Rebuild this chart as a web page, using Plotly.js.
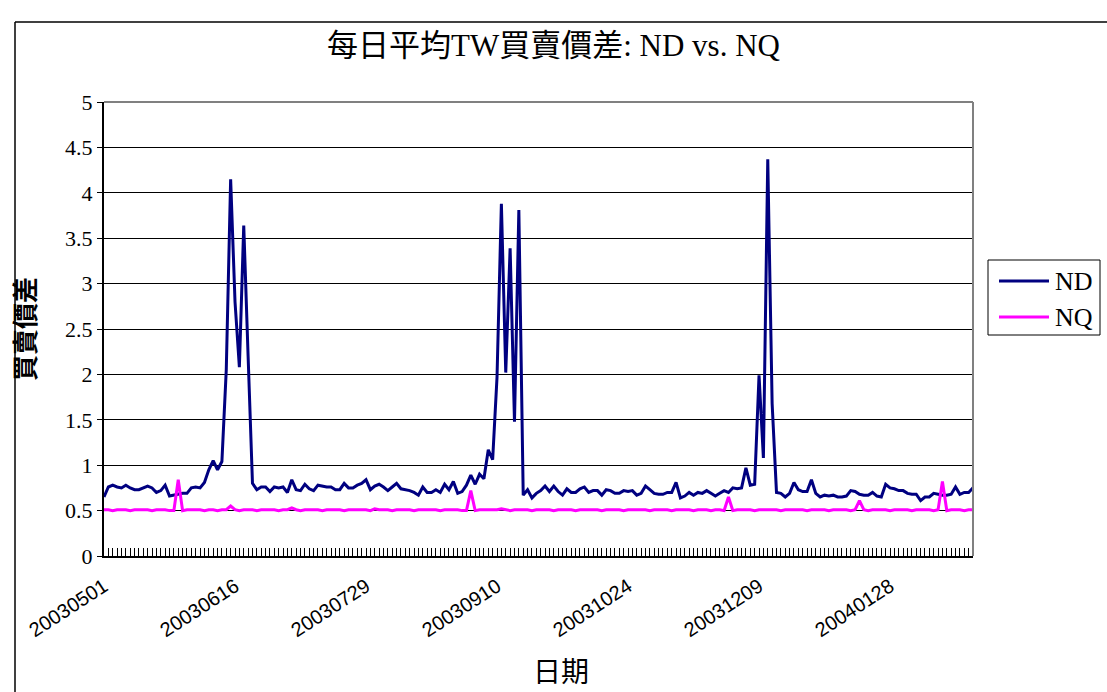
<!DOCTYPE html>
<html>
<head>
<meta charset="utf-8">
<script src="https://cdn.plot.ly/plotly-3.0.1.min.js"></script>
<style>
  html, body { margin: 0; padding: 0; background: #ffffff; }
  #chart { width: 1107px; height: 692px; }
</style>
</head>
<body>
<div id="chart"></div>
<script>
// Daily average TW bid-ask spread, one value per trading day (index 0 = 20030501)
const ndSpread = [
  0.65, 0.76, 0.78, 0.76, 0.75, 0.78, 0.75, 0.73, 0.73, 0.75,
  0.77, 0.75, 0.70, 0.72, 0.78, 0.66, 0.67, 0.68, 0.69, 0.69,
  0.75, 0.76, 0.75, 0.81, 0.95, 1.05, 0.95, 1.04, 2.05, 4.15,
  2.80, 2.08, 3.64, 2.20, 0.80, 0.73, 0.76, 0.76, 0.71, 0.76,
  0.75, 0.76, 0.70, 0.84, 0.73, 0.72, 0.79, 0.74, 0.72, 0.78,
  0.77, 0.76, 0.76, 0.73, 0.73, 0.80, 0.75, 0.75, 0.78, 0.80,
  0.84, 0.73, 0.77, 0.79, 0.76, 0.72, 0.76, 0.80, 0.74, 0.73,
  0.72, 0.70, 0.67, 0.76, 0.70, 0.70, 0.73, 0.70, 0.79, 0.73,
  0.82, 0.69, 0.71, 0.78, 0.89, 0.79, 0.90, 0.85, 1.17, 1.06,
  1.97, 3.88, 2.02, 3.39, 1.48, 3.81, 0.67, 0.73, 0.64, 0.69,
  0.72, 0.77, 0.71, 0.77, 0.71, 0.67, 0.74, 0.70, 0.70, 0.74,
  0.76, 0.70, 0.72, 0.72, 0.67, 0.73, 0.72, 0.69, 0.69, 0.72,
  0.71, 0.72, 0.67, 0.69, 0.77, 0.73, 0.69, 0.68, 0.68, 0.70,
  0.70, 0.81, 0.64, 0.66, 0.70, 0.67, 0.70, 0.69, 0.72, 0.69,
  0.66, 0.69, 0.72, 0.70, 0.75, 0.74, 0.75, 0.97, 0.78, 0.79,
  1.99, 1.08, 4.37, 1.68, 0.70, 0.69, 0.65, 0.69, 0.81, 0.73,
  0.71, 0.71, 0.84, 0.69, 0.65, 0.67, 0.66, 0.67, 0.65, 0.65,
  0.66, 0.72, 0.71, 0.68, 0.67, 0.67, 0.70, 0.66, 0.65, 0.79,
  0.75, 0.74, 0.72, 0.72, 0.69, 0.68, 0.68, 0.61, 0.65, 0.65,
  0.69, 0.68, 0.67, 0.67, 0.68, 0.76, 0.68, 0.70, 0.70, 0.75
];

const nqSpread = [
  0.51, 0.51, 0.50, 0.51, 0.51, 0.51, 0.50, 0.51, 0.51, 0.51,
  0.51, 0.50, 0.51, 0.51, 0.51, 0.50, 0.50, 0.84, 0.50, 0.51,
  0.51, 0.51, 0.51, 0.50, 0.51, 0.51, 0.50, 0.51, 0.51, 0.55,
  0.51, 0.50, 0.51, 0.51, 0.51, 0.50, 0.51, 0.51, 0.51, 0.51,
  0.50, 0.51, 0.51, 0.53, 0.51, 0.50, 0.51, 0.51, 0.51, 0.51,
  0.50, 0.51, 0.51, 0.51, 0.51, 0.50, 0.51, 0.51, 0.51, 0.51,
  0.51, 0.50, 0.52, 0.51, 0.51, 0.51, 0.50, 0.51, 0.51, 0.51,
  0.51, 0.50, 0.51, 0.51, 0.51, 0.51, 0.51, 0.50, 0.51, 0.51,
  0.51, 0.51, 0.50, 0.50, 0.72, 0.50, 0.51, 0.51, 0.51, 0.51,
  0.51, 0.52, 0.51, 0.50, 0.51, 0.51, 0.51, 0.51, 0.50, 0.51,
  0.51, 0.51, 0.51, 0.50, 0.51, 0.51, 0.51, 0.51, 0.50, 0.51,
  0.51, 0.51, 0.51, 0.51, 0.50, 0.51, 0.51, 0.51, 0.51, 0.50,
  0.51, 0.51, 0.51, 0.51, 0.51, 0.50, 0.51, 0.51, 0.51, 0.51,
  0.50, 0.51, 0.51, 0.51, 0.51, 0.50, 0.51, 0.51, 0.51, 0.50,
  0.51, 0.51, 0.50, 0.65, 0.50, 0.51, 0.51, 0.51, 0.51, 0.50,
  0.51, 0.51, 0.51, 0.51, 0.51, 0.50, 0.51, 0.51, 0.51, 0.51,
  0.51, 0.50, 0.51, 0.51, 0.51, 0.51, 0.50, 0.51, 0.51, 0.51,
  0.51, 0.50, 0.51, 0.61, 0.51, 0.50, 0.51, 0.51, 0.51, 0.51,
  0.50, 0.51, 0.51, 0.51, 0.51, 0.50, 0.51, 0.51, 0.51, 0.51,
  0.50, 0.51, 0.82, 0.50, 0.51, 0.51, 0.51, 0.50, 0.51, 0.51
];

// Date labels shown on the category axis, one every 30 trading days
const dateLabels = ['20030501', '20030616', '20030729', '20030910', '20031024', '20031209', '20040128'];
const labelStep = 30;

const seriesNames = ['ND', 'NQ'];
const seriesColors = ['#000080', '#FF00FF'];

const dayIndex = ndSpread.map((_, i) => i);
const labelPositions = dateLabels.map((_, k) => k * labelStep);

const serif = "'Liberation Serif', 'Times New Roman', 'Noto Sans CJK TC', serif";
const sans = "'Liberation Sans', Arial, 'Noto Sans CJK TC', sans-serif";
const cjk = "'Noto Sans CJK TC', sans-serif";

const traces = [ndSpread, nqSpread].map((vals, k) => ({
  x: dayIndex, y: vals, name: seriesNames[k], type: 'scatter', mode: 'lines',
  line: { color: seriesColors[k], width: 3 }, showlegend: false
}));

// Plot area in pixels: x 104..973, y 102..556
const plotW = 869, plotH = 454;
const px = v => (v - 104) / plotW;          // page x -> paper x
const py = v => (556 - v) / plotH;          // page y -> paper y

// Legend box drawn beside the plot: frame, line samples and names
const legendShapes = [
  { type: 'rect', xref: 'paper', yref: 'paper', x0: px(988), x1: px(1100), y0: py(260), y1: py(335),
    line: { color: '#000', width: 1 }, fillcolor: '#fff' }
];
const legendLabels = [];
seriesNames.forEach((name, k) => {
  const yy = 281 + k * 36;
  legendShapes.push({ type: 'line', xref: 'paper', yref: 'paper', x0: px(999), x1: px(1049), y0: py(yy), y1: py(yy),
    line: { color: seriesColors[k], width: 3 } });
  legendLabels.push({ xref: 'paper', yref: 'paper', x: px(1053), y: py(yy), xanchor: 'left', yanchor: 'middle',
    text: name, showarrow: false, font: { family: serif, size: 26, color: '#000' } });
});

// x-axis title placed under the date labels
const xTitle = { xref: 'paper', yref: 'paper', x: px(561), y: py(670), xanchor: 'center', yanchor: 'middle',
  text: '日期', showarrow: false, font: { family: cjk, size: 28, color: '#000' } };

const layout = {
  width: 1107, height: 692,
  margin: { l: 104, r: 134, t: 102, b: 136 },
  paper_bgcolor: '#ffffff',
  plot_bgcolor: '#ffffff',
  title: {
    text: '每日平均TW買賣價差: ND vs. NQ',
    font: { family: serif, size: 31, color: '#000' },
    x: 0.5, xanchor: 'center', y: 0.935, yanchor: 'middle'
  },
  showlegend: false,
  xaxis: {
    range: [0, ndSpread.length - 1],
    tickmode: 'array', tickvals: labelPositions, ticktext: dateLabels,
    tickangle: -33,
    tickfont: { family: sans, size: 20, color: '#000' },
    ticks: 'inside', ticklen: 8, tickwidth: 1, tickcolor: '#000',
    minor: { dtick: 1, tick0: 0, ticks: 'inside', ticklen: 8, tickwidth: 1, tickcolor: '#000', showgrid: false },
    ticklabelstandoff: 9,
    showline: true, linecolor: '#000', linewidth: 2,
    showgrid: false, zeroline: false, mirror: false
  },
  yaxis: {
    range: [0, 5], dtick: 0.5, tick0: 0,
    tickfont: { family: serif, size: 22, color: '#000' },
    ticks: 'outside', ticklen: 5, tickcolor: '#000',
    showline: true, linecolor: '#000', linewidth: 2,
    showgrid: true, gridcolor: '#000', gridwidth: 1,
    zeroline: false,
    title: { text: '買賣價差', font: { family: cjk, size: 26, color: '#000', weight: 'bold' }, standoff: 22 }
  },
  annotations: legendLabels.concat([xTitle]),
  shapes: [
    // plot frame: grey top and right edges
    { type: 'line', xref: 'paper', yref: 'paper', x0: 0, x1: 1, y0: 1, y1: 1, line: { color: '#808080', width: 2 } },
    { type: 'line', xref: 'paper', yref: 'paper', x0: 1, x1: 1, y0: 0, y1: 1, line: { color: '#808080', width: 2 } },
    // outer chart border (left and top)
    { type: 'line', xref: 'paper', yref: 'paper', x0: px(15), x1: px(15), y0: py(22), y1: py(700), line: { color: '#000', width: 1.5 } },
    { type: 'line', xref: 'paper', yref: 'paper', x0: px(15), x1: px(1110), y0: py(22), y1: py(22), line: { color: '#000', width: 1.5 } }
  ].concat(legendShapes)
};

Plotly.newPlot('chart', traces, layout, { displayModeBar: false, staticPlot: true });
</script>
</body>
</html>
